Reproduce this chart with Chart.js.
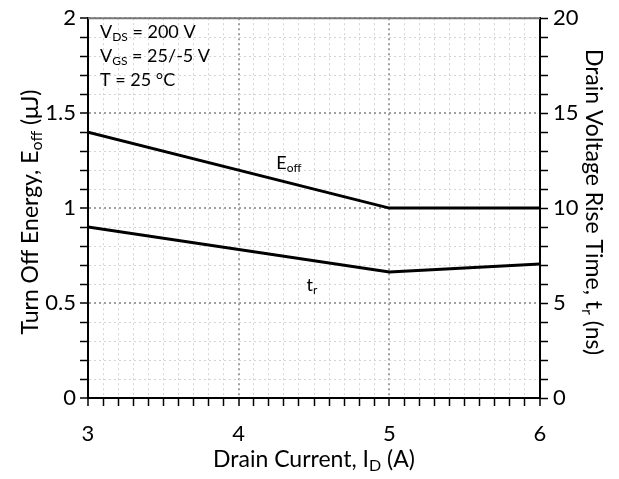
<!DOCTYPE html>
<html>
<head>
<meta charset="utf-8">
<script src="https://cdn.jsdelivr.net/npm/chart.js@4"></script>
<style>
  body { margin: 0; background: #fff; }
  #wrap { width: 619px; height: 479px; }
</style>
</head>
<body>
<div id="wrap"><canvas id="chart"></canvas></div>
<script>
// values
const current = [3, 5, 6];          // Drain current I_D (A)
const eoff = [1.40, 1.00, 1.00];    // Turn off energy (uJ), left axis
const riseTime = [9.0, 6.63, 7.05]; // Drain voltage rise time (ns), right axis

const xTicks = [3, 4, 5, 6];
const yTicks = [0, 0.5, 1, 1.5, 2];
const y2Ticks = [0, 5, 10, 15, 20];

const FONT = 'Lato, "Open Sans", sans-serif';

function near(v, list) {
  return list.some(t => Math.abs(t - v) < 1e-6);
}

// draw a row of text pieces, some of them subscript
function drawRich(ctx, segs, size, x, y, align) {
  const subSize = Math.round(size * 0.68);
  let w = 0;
  segs.forEach(s => {
    ctx.font = (s.sub ? subSize : size) + 'px ' + FONT;
    w += ctx.measureText(s.t).width;
  });
  let cx = align === 'center' ? x - w / 2 : x;
  ctx.textAlign = 'left';
  ctx.textBaseline = 'alphabetic';
  segs.forEach(s => {
    ctx.font = (s.sub ? subSize : size) + 'px ' + FONT;
    ctx.fillText(s.t, cx, y + (s.sub ? size * 0.16 : 0));
    cx += ctx.measureText(s.t).width;
  });
}

const textPlugin = {
  id: 'texts',
  afterDraw(chart) {
    const ctx = chart.ctx;
    const a = chart.chartArea;
    const x = chart.scales.x, y = chart.scales.y;
    ctx.save();
    ctx.fillStyle = '#000';

    // top frame line
    ctx.strokeStyle = '#777';
    ctx.lineWidth = 2;
    ctx.beginPath();
    ctx.moveTo(a.left, a.top);
    ctx.lineTo(a.right, a.top);
    ctx.stroke();

    // conditions box
    drawRich(ctx, [{t: 'V'}, {t: 'DS', sub: true}, {t: ' = 200 V'}], 18, 100, 38);
    drawRich(ctx, [{t: 'V'}, {t: 'GS', sub: true}, {t: ' = 25/-5 V'}], 18, 100, 62);
    drawRich(ctx, [{t: 'T = 25 °C'}], 18, 100, 86);

    // curve labels
    drawRich(ctx, [{t: 'E'}, {t: 'off', sub: true}], 18, x.getPixelForValue(4.25), y.getPixelForValue(1.205), 'left');
    drawRich(ctx, [{t: 't'}, {t: 'r', sub: true}], 18, x.getPixelForValue(4.45), y.getPixelForValue(0.565), 'left');

    // axis titles
    drawRich(ctx, [{t: 'Drain Current, I'}, {t: 'D', sub: true}, {t: ' (A)'}], 23,
      (a.left + a.right) / 2, 467, 'center');

    ctx.save();
    ctx.translate(38, 212);
    ctx.rotate(-Math.PI / 2);
    drawRich(ctx, [{t: 'Turn Off Energy, E'}, {t: 'off', sub: true}, {t: ' (\u03bcJ)'}], 23, 0, 0, 'center');
    ctx.restore();

    ctx.save();
    ctx.translate(586, 202);
    ctx.rotate(Math.PI / 2);
    drawRich(ctx, [{t: 'Drain Voltage Rise Time, t'}, {t: 'r', sub: true}, {t: ' (ns)'}], 23, 0, 0, 'center');
    ctx.restore();

    ctx.restore();
  }
};

function gridColor(list) {
  return c => near(c.tick.value, list) ? '#a0a0a0' : '#d4d4d4';
}
function gridWidth(list) {
  return c => near(c.tick.value, list) ? 2 : 1;
}

new Chart(document.getElementById('chart'), {
  type: 'line',
  data: {
    datasets: [
      {
        label: 'Eoff',
        data: current.map((v, i) => ({x: v, y: eoff[i]})),
        yAxisID: 'y',
        borderColor: '#000',
        borderWidth: 3,
        pointRadius: 0,
        tension: 0
      },
      {
        label: 'tr',
        data: current.map((v, i) => ({x: v, y: riseTime[i]})),
        yAxisID: 'y2',
        borderColor: '#000',
        borderWidth: 3,
        pointRadius: 0,
        tension: 0
      }
    ]
  },
  options: {
    responsive: true,
    maintainAspectRatio: false,
    animation: false,
    layout: { padding: { top: 12, left: 0, right: 0, bottom: 0 } },
    plugins: { legend: { display: false }, tooltip: { enabled: false } },
    scales: {
      x: {
        type: 'linear',
        min: 3, max: 6,
        afterFit: s => { s.height = 81; },
        ticks: {
          stepSize: 0.1, autoSkip: false, maxRotation: 0, padding: 15,
          color: '#000', font: { family: FONT, size: 22 },
          callback: v => near(v, xTicks) ? String(Math.round(v)) : ''
        },
        grid: {
          color: gridColor(xTicks), lineWidth: gridWidth(xTicks),
          tickColor: '#000', tickWidth: 1.5, tickLength: 8, tickBorderDash: []
        },
        border: { color: '#000', width: 2, dash: [2, 3] }
      },
      y: {
        position: 'left',
        min: 0, max: 2,
        afterFit: s => { s.width = 88; },
        ticks: {
          stepSize: 0.1, autoSkip: false, padding: 4,
          color: '#000', font: { family: FONT, size: 22 },
          callback: v => near(v, yTicks) ? String(Math.round(v * 10) / 10) : ''
        },
        grid: {
          color: gridColor(yTicks), lineWidth: gridWidth(yTicks),
          tickColor: '#000', tickWidth: 1.5, tickLength: 8, tickBorderDash: []
        },
        border: { color: '#000', width: 2, dash: [2, 3] }
      },
      y2: {
        position: 'right',
        min: 0, max: 20,
        afterFit: s => { s.width = 79; },
        ticks: {
          stepSize: 1, autoSkip: false, padding: 5,
          color: '#000', font: { family: FONT, size: 22 },
          callback: v => near(v, y2Ticks) ? String(v) : ''
        },
        grid: {
          drawOnChartArea: false,
          tickColor: '#000', tickWidth: 1.5, tickLength: 8
        },
        border: { color: '#000', width: 2 }
      }
    }
  },
  plugins: [textPlugin]
});
</script>
</body>
</html>
